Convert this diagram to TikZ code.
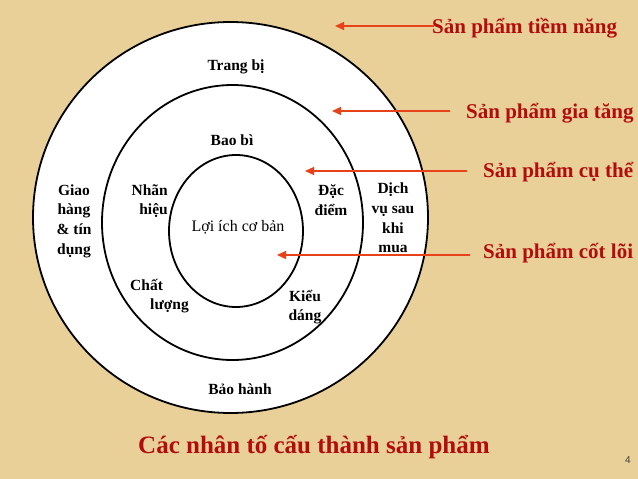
\documentclass[tikz,border=0pt]{standalone}
\usepackage{fontspec}
\setmainfont{Liberation Serif}
\newfontfamily\sofont{Liberation Sans}
\usetikzlibrary{arrows.meta}

\definecolor{giay}{RGB}{232,208,152}
\definecolor{chudo}{RGB}{178,12,12}
\definecolor{muiten}{RGB}{232,66,26}

\begin{document}
\begin{tikzpicture}[%
        x = 1pt, y = -1pt,
        vong/.style = {%
          draw = black,
          line width = 1.8pt,
          fill = white,
        },
        nhan/.style = {%
          font = \fontsize{15.5}{19.7}\selectfont\bfseries,
          align = center,
          inner sep = 0pt,
        },
        tang/.style = {%
          font = \fontsize{21}{25}\selectfont\bfseries,
          text = chudo,
          anchor = base west,
          inner sep = 0pt,
        },
        chiden/.style = {%
          draw = muiten,
          line width = 1.3pt,
          -{Triangle[length = 9pt, width = 8pt]},
        },
      ]
      \useasboundingbox (0,0) rectangle (638,479);
      \fill[giay] (0,0) rectangle (638,479);
      % ba vong
      \draw[vong] (230.5,217.5) ellipse [x radius = 197.5pt, y radius = 195.5pt];
      \draw[vong] (232.5,222.5) ellipse [x radius = 130.5pt, y radius = 137.5pt];
      \draw[vong] (236,231)     ellipse [x radius = 67pt,    y radius = 76pt];
      \node[nhan] (trangbi)   at (236,67)  {Trang bị};
      \node[nhan] (baobi)     at (232,140) {Bao bì};
      \node[nhan] (giaohang)  at (74,221)  {Giao\\hàng\\\& tín\\dụng};
      \node[nhan, align = right, anchor = east] (nhanhieu) at (168,201) {Nhãn\\hiệu};
      \node[nhan, font = \fontsize{16}{19.7}\selectfont] (loiich) at (238,227) {Lợi ích cơ bản};
      \node[nhan] (dacdiem)   at (331,200) {Đặc\\điểm};
      \node[nhan] (dichvu)    at (393,218) {Dịch\\vụ sau\\khi\\mua};
      \node[nhan, align = left, anchor = west] (chatluong) at (130,296) {Chất\\\hspace*{20pt}lượng};
      \node[nhan] (kieudang)  at (305,307) {Kiểu\\dáng};
      \node[nhan] (baohanh)   at (240,389) {Bảo hành};
      % bon cap san pham
      \node[tang] (tiemnang) at (432,34)  {Sản phẩm tiềm năng};
      \node[tang] (giatang)  at (466,118) {Sản phẩm gia tăng};
      \node[tang] (cuthe)    at (483,177) {Sản phẩm cụ thể};
      \node[tang] (cotloi)   at (483,258) {Sản phẩm cốt lõi};
      \coordinate (dinh1) at (335,26);
      \coordinate (dinh2) at (332,111);
      \coordinate (dinh3) at (305,171);
      \coordinate (dinh4) at (277,255);
      \draw[chiden, shorten <= -2pt] (tiemnang.west |- dinh1) -- (dinh1);
      \draw[chiden, shorten <= 16pt] (giatang.west |- dinh2) -- (dinh2);
      \draw[chiden, shorten <= 16pt] (cuthe.west |- dinh3) -- (dinh3);
      \draw[chiden, shorten <= 13pt] (cotloi.west |- dinh4) -- (dinh4);
      \node[tang, font = \fontsize{25}{30}\selectfont\bfseries] (tieude) at (138,453) {Các nhân tố cấu thành sản phẩm};
      \node[font = \sofont\fontsize{10}{12}\selectfont, text = black!75, anchor = base] (trang) at (628,463) {4};
    \end{tikzpicture}
\end{document}
